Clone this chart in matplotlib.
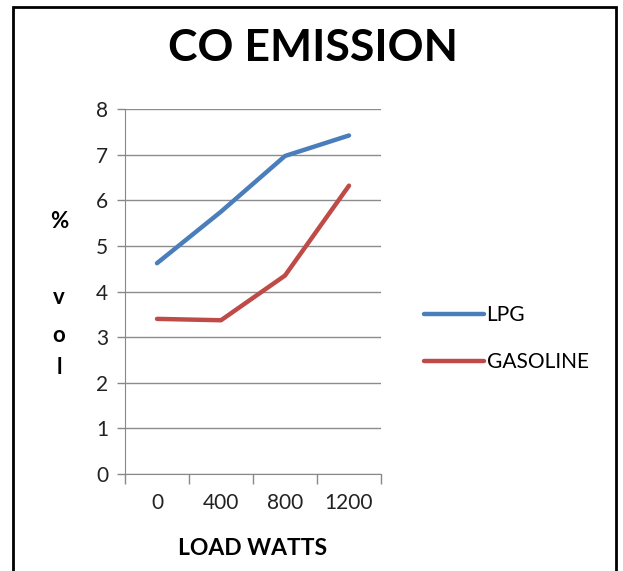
import matplotlib as mpl
from matplotlib import pyplot as plt
from matplotlib.patches import Rectangle

# data
loads = ['0', '400', '800', '1200']
lpg = [4.62, 5.75, 6.97, 7.42]
gasoline = [3.40, 3.37, 4.35, 6.32]
yticks = [0, 1, 2, 3, 4, 5, 6, 7, 8]

# stacked y label pieces and their pixel rows (from top)
ylabel_parts = ['%', 'v', 'o', 'l']
ylabel_rows = [222, 297, 335, 368]

W, H = 623, 571
plt.rcParams['font.family'] = ['Lato', 'DejaVu Sans']

fig = plt.figure(figsize=(W / 100, H / 100), dpi=100)
ax = fig.add_axes([125 / W, 1 - 474 / H, (381 - 125) / W, (474 - 109) / H])

xs = list(range(len(loads)))
ax.plot(xs, lpg, color='#4a7ebb', lw=3.2, label='LPG', solid_capstyle='round')
ax.plot(xs, gasoline, color='#be4b48', lw=3.2, label='GASOLINE', solid_capstyle='round')

ax.set_xlim(-0.5, len(loads) - 0.5)
ax.set_ylim(0, 8)
ax.set_yticks(yticks)
ax.set_yticklabels([str(v) for v in yticks], fontsize=15, color='#222222')
ax.set_xticks(xs)
ax.set_xticklabels(loads, fontsize=15, color='#222222')
ax.tick_params(axis='x', length=0, pad=14)
ax.tick_params(axis='y', length=6, width=1, color='#888888', pad=6, direction='out')
# category boundary ticks on x axis
ax.set_xticks([i - 0.5 for i in range(len(loads) + 1)], minor=True)
ax.tick_params(axis='x', which='minor', length=7, width=1, color='#888888', direction='out')

ax.grid(axis='y', color='#8c8c8c', lw=1)
ax.set_axisbelow(True)
for side in ['top', 'right']:
    ax.spines[side].set_visible(False)
ax.spines['left'].set_color('#888888')
ax.spines['bottom'].set_color('#888888')

ax.set_xlabel('LOAD WATTS', fontsize=16.5, fontweight='bold', labelpad=18)

fig.text(313 / W, 1 - 48 / H, 'CO EMISSION', fontsize=32, fontweight='bold',
         ha='center', va='center')

for part, row in zip(ylabel_parts, ylabel_rows):
    fig.text(59 / W, 1 - row / H, part, fontsize=16, fontweight='bold',
             ha='center', va='center')

ax.legend(loc='center left', bbox_to_anchor=(1.095, 0.37),
          frameon=False, fontsize=15, handlelength=2.9, handletextpad=0.1,
          labelspacing=1.3)

fig.patches.append(Rectangle((13 / W, -0.05), (616 - 13) / W, 1.05 - 7 / H,
                             transform=fig.transFigure, fill=False,
                             edgecolor='black', lw=2))

fig.savefig('out.png', dpi=100)
